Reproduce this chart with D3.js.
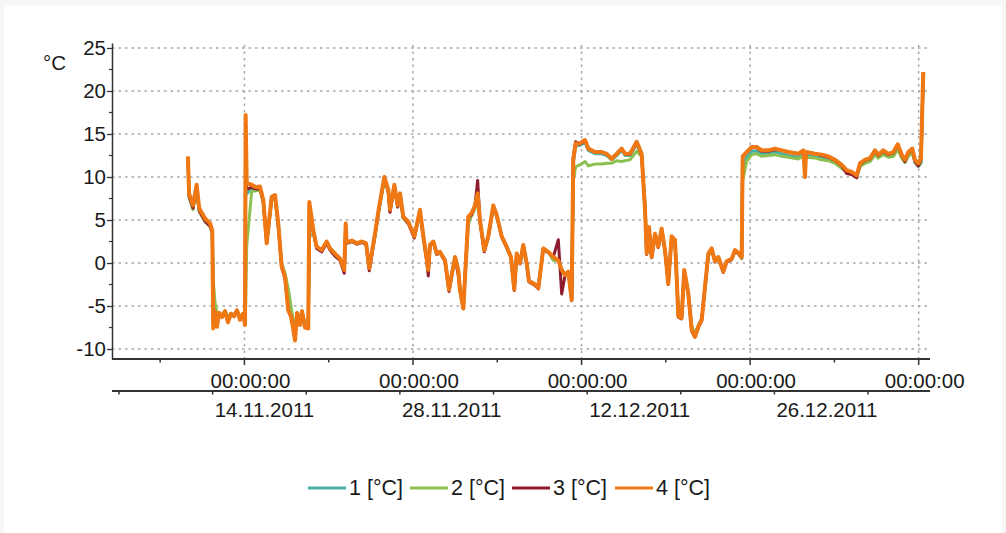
<!DOCTYPE html>
<html><head><meta charset="utf-8">
<script src="https://cdn.jsdelivr.net/npm/d3@7"></script>
<style>
html,body{margin:0;padding:0;background:#f7f7f7;}
svg{display:block;font-family:"Liberation Sans",Arial,sans-serif;}
</style></head>
<body>
<svg id="chart" width="1006" height="533"></svg>
<script>
// ---- data ----
const startDate = "2011-11-03T00:00:00";
// time of each sample, in days since startDate
const times = [
6.31,6.40,6.73,7.03,7.23,7.31,7.72,8.14,8.33,8.41,
8.55,8.72,8.89,9.14,9.39,9.63,9.88,10.13,10.38,10.63,
10.88,11.05,11.10,11.19,11.60,11.96,12.29,12.57,12.85,13.26,
13.54,13.81,14.09,14.37,14.64,14.87,15.03,15.20,15.37,15.61,
15.78,16.03,16.30,16.39,16.72,17.00,17.42,17.83,18.11,18.52,
18.94,19.29,19.41,19.48,19.93,20.35,20.76,21.10,21.37,21.84,
22.18,22.62,22.95,23.09,23.45,23.73,23.92,24.19,24.61,25.11,
25.58,25.86,26.08,26.27,26.41,26.69,26.97,27.24,27.66,27.99,
28.49,28.76,28.90,29.18,29.59,29.87,30.15,30.37,30.56,30.92,
31.25,31.67,31.95,32.37,32.78,33.14,33.41,33.61,33.89,34.16,
34.44,34.63,35.13,35.41,35.82,36.24,36.65,37.07,37.35,37.62,
37.90,38.18,38.31,38.51,38.87,39.29,39.56,40.12,40.67,41.09,
41.50,41.92,42.33,42.61,43.02,43.58,43.99,44.27,44.41,44.60,
44.82,45.10,45.37,45.65,45.93,46.20,46.48,46.76,47.04,47.31,
47.53,47.86,48.15,48.42,48.70,48.98,49.25,49.53,49.81,50.08,
50.36,50.77,51.05,51.47,51.74,52.02,52.30,52.38,52.71,53.13,
53.55,53.96,54.51,55.07,55.62,56.17,57.00,57.42,57.56,57.64,
58.39,58.95,59.49,60.05,60.61,61.02,61.44,61.85,62.13,62.54,
62.96,63.37,63.65,64.06,64.48,64.90,65.26,65.59,65.86,66.14,
66.47,66.69,66.97,67.19,67.38];

const series1 = [
12.2,7.9,6.5,8.9,6.3,6.0,5.0,4.4,3.6,-5.0,
-5.4,-6.8,-5.8,-6.1,-5.6,-6.6,-5.9,-6.1,-5.5,-6.4,
-5.9,-6.9,10.0,8.0,8.8,8.6,8.7,7.1,2.4,7.5,
7.7,4.5,-0.2,-1.4,-4.5,-5.8,-7.0,-8.0,-5.8,-7.0,
-5.6,-7.2,-7.4,5.0,3.7,1.9,1.5,2.5,1.7,1.1,
0.5,-0.8,3.0,2.4,2.6,2.3,2.5,2.3,-0.6,3.3,
6.4,9.8,8.4,6.1,8.9,6.6,8.0,5.3,4.7,3.1,
6.0,3.1,1.0,-0.7,2.1,2.5,1.1,1.3,0.3,-3.0,
0.7,-0.8,-3.0,-5.0,5.0,5.7,6.5,7.9,5.0,1.5,
3.1,6.6,5.5,3.1,1.9,0.7,-3.0,1.1,0.0,2.1,
0.0,-2.1,-2.5,-2.8,1.7,1.3,0.5,0.3,-0.8,-1.4,
-1.0,-4.0,11.5,13.6,13.7,14.0,13.1,12.7,12.7,12.5,
12.0,12.5,13.1,12.5,12.5,13.8,12.6,6.5,1.2,4.1,
0.7,3.3,1.9,3.9,1.5,-2.3,3.0,2.7,-5.9,-6.2,
-0.9,-3.4,-7.6,-8.4,-7.3,-6.5,-2.8,1.0,1.6,0.2,
0.7,-1.0,0.2,0.5,1.4,1.2,0.6,11.0,12.3,13.0,
13.0,12.7,12.7,12.9,12.7,12.5,12.3,12.7,11.5,12.5,
12.4,12.2,12.1,11.7,11.1,10.6,10.4,10.0,11.3,11.7,
11.9,12.8,12.3,12.8,12.4,12.6,13.4,12.3,11.7,12.6,
13.0,11.7,11.2,11.6,22.0];

const series2 = [
12.0,7.6,6.2,8.6,6.0,5.8,4.8,4.2,3.5,-2.0,
-4.5,-5.8,-5.8,-6.0,-5.6,-6.3,-5.9,-6.0,-5.5,-6.2,
-5.9,-6.5,-5.0,2.0,8.3,8.4,8.5,7.0,2.6,7.3,
7.5,4.4,0.0,-1.2,-3.0,-5.0,-6.5,-7.0,-5.8,-6.8,
-5.6,-7.0,-7.2,3.0,3.5,1.8,1.4,2.4,1.6,1.0,
0.4,-0.8,2.5,2.3,2.5,2.2,2.4,2.2,-0.5,3.0,
6.2,9.6,8.2,6.0,8.7,6.5,7.8,5.2,4.6,3.0,
5.8,3.0,1.0,-0.6,2.0,2.4,1.0,1.2,0.3,-2.8,
0.7,-0.7,-2.8,-4.8,4.5,5.5,6.3,7.6,4.9,1.5,
3.0,6.4,5.4,3.0,1.8,0.7,-2.8,1.0,0.0,2.0,
0.0,-2.0,-2.4,-2.7,1.6,1.3,0.3,0.3,-0.7,-1.3,
-1.0,-3.8,9.5,11.2,11.4,11.8,11.3,11.5,11.5,11.6,
11.6,11.9,11.8,11.9,12.0,13.0,12.4,7.0,1.5,4.0,
0.8,3.2,1.9,3.8,1.5,-2.2,2.9,2.6,-5.5,-6.0,
-1.0,-3.3,-7.3,-8.2,-7.2,-6.4,-2.9,0.8,1.5,0.2,
0.6,-0.9,0.2,0.4,1.3,1.1,0.5,9.5,11.8,12.6,
12.7,12.4,12.5,12.6,12.4,12.3,12.1,12.4,11.0,12.3,
12.2,12.0,11.9,11.6,11.0,10.6,10.3,10.0,11.2,11.6,
11.8,12.6,12.2,12.6,12.3,12.4,13.2,12.2,11.7,12.4,
12.8,11.7,11.3,11.7,21.5];

const series3 = [
12.3,7.8,6.4,8.9,6.2,5.9,4.9,4.3,3.6,-7.0,
-5.6,-7.2,-5.8,-6.3,-5.6,-6.8,-5.9,-6.2,-5.5,-6.5,
-5.9,-7.0,16.0,8.6,8.8,8.6,8.7,7.1,2.3,7.5,
7.6,4.4,-0.5,-1.8,-5.5,-6.2,-7.4,-8.8,-5.8,-7.1,
-5.6,-7.4,-7.5,6.8,3.6,1.7,1.3,2.3,1.5,0.8,
0.3,-1.2,4.4,2.3,2.5,2.2,2.4,2.2,-0.9,3.2,
6.3,10.0,8.3,5.9,9.0,6.5,8.0,5.3,4.6,2.9,
6.1,3.0,0.9,-1.5,2.0,2.4,1.0,1.2,0.2,-3.3,
0.6,-1.4,-3.2,-5.3,5.3,5.6,6.7,9.6,4.8,1.3,
3.0,6.6,5.5,3.0,1.8,0.6,-3.2,1.0,-0.1,2.0,
-0.1,-2.2,-2.6,-3.0,1.6,1.2,0.7,2.7,-3.6,-1.5,
-1.1,-4.4,12.3,14.1,13.8,14.2,13.3,12.9,12.9,12.7,
12.2,12.7,13.3,12.7,12.6,14.0,12.6,6.3,1.0,4.1,
0.6,3.3,1.8,3.9,1.4,-2.5,3.0,2.6,-6.3,-6.5,
-0.9,-3.6,-7.9,-8.6,-7.5,-6.7,-2.9,1.0,1.6,0.1,
0.6,-1.1,0.1,0.4,1.4,1.1,0.6,12.3,12.9,13.4,
13.4,13.0,13.0,13.2,13.1,12.9,12.7,13.0,11.0,12.9,
12.7,12.5,12.3,11.9,11.3,10.4,10.3,9.9,11.5,11.9,
12.1,13.0,12.5,13.0,12.6,12.8,13.7,12.5,11.8,12.8,
13.2,11.8,11.3,12.0,22.0];

const series4 = [
12.4,8.1,6.7,9.1,6.5,6.2,5.2,4.6,3.8,-7.6,
-5.6,-7.4,-5.8,-6.3,-5.6,-6.9,-5.9,-6.2,-5.5,-6.6,
-5.9,-7.2,17.2,9.3,9.1,8.8,8.9,7.3,2.3,7.7,
7.9,4.6,-0.4,-1.6,-5.5,-6.2,-7.5,-9.0,-5.8,-7.2,
-5.6,-7.5,-7.6,7.1,3.8,1.9,1.5,2.5,1.7,1.1,
0.5,-0.8,4.6,2.4,2.6,2.3,2.5,2.3,-0.6,3.4,
6.5,10.0,8.5,6.2,9.1,6.7,8.1,5.4,4.8,3.1,
6.2,3.1,1.0,-0.8,2.1,2.5,1.1,1.3,0.3,-3.1,
0.7,-0.8,-3.1,-5.3,5.4,5.8,6.7,8.1,5.0,1.5,
3.1,6.7,5.6,3.1,1.9,0.7,-3.1,1.1,0.0,2.1,
0.0,-2.1,-2.5,-2.9,1.7,1.3,0.7,0.3,-0.8,-1.4,
-1.0,-4.3,12.0,13.9,13.9,14.3,13.3,12.9,12.9,12.7,
12.1,12.7,13.3,12.7,12.7,14.1,12.7,6.2,1.1,4.2,
0.7,3.4,1.9,4.0,1.5,-2.4,3.1,2.7,-6.2,-6.4,
-0.8,-3.5,-7.8,-8.6,-7.4,-6.6,-2.8,1.1,1.7,0.2,
0.7,-1.0,0.2,0.5,1.5,1.2,0.7,12.4,12.9,13.5,
13.5,13.1,13.1,13.3,13.1,12.9,12.7,13.1,10.0,12.9,
12.7,12.6,12.4,12.0,11.4,10.8,10.6,10.2,11.6,12.0,
12.2,13.1,12.6,13.1,12.7,12.9,13.8,12.6,12.0,12.9,
13.3,12.0,11.6,12.2,22.2];

const seriesNames = ["1 [°C]","2 [°C]","3 [°C]","4 [°C]"];
const seriesColors = ["#47b1a6","#8cc152","#8e1b2e","#f07814"];
const yTicks = [-10,-5,0,5,10,15,20,25];
const yMinorTicks = [-7.5,-2.5,2.5,7.5,12.5,17.5,22.5];
const timeTickLabel = "00:00:00";
const timeMajorTicks = ["2011-11-14","2011-11-28","2011-12-12","2011-12-26","2012-01-09"];
const timeMinorTicks = ["2011-11-07","2011-11-21","2011-12-05","2011-12-19","2012-01-02"];
const dateTicks = ["2011-11-07","2011-11-14","2011-11-21","2011-11-28","2011-12-05","2011-12-12","2011-12-19","2011-12-26","2012-01-02"];
const dateLabels = ["14.11.2011","28.11.2011","12.12.2011","26.12.2011"];
const dateLabelTicks = ["2011-11-14","2011-11-28","2011-12-12","2011-12-26"];
const yUnit = "°C";

// ---- layout ----
const svg = d3.select("#chart");
svg.append("rect").attr("x",4).attr("y",6).attr("width",998).attr("height",527).attr("fill","#fff");

const L = 112, R = 930, T = 43, B = 359;
const t0 = new Date(startDate);
const dayMs = 86400000;
const parse = s => new Date(s + "T00:00:00");
const x = d3.scaleTime().domain([t0, new Date(+t0 + 67.94*dayMs)]).range([L, R]);
const y = d3.scaleLinear().domain([-11.16, 25.58]).range([B, T]);
// second (date) axis scale
const x2 = d3.scaleTime().domain([parse("2011-11-07"), parse("2012-01-02")]).range([119, 868]);

const font = 20.5, txt = "#1a1a1a", axisCol = "#333";

// grid
const grid = svg.append("g").attr("stroke","#a8a8a8").attr("stroke-width",1.5).attr("stroke-dasharray","2.5,4");
grid.selectAll("line.h").data(yTicks).join("line").attr("class","h")
  .attr("x1",L).attr("x2",R).attr("y1",d=>y(d)).attr("y2",d=>y(d));
grid.selectAll("line.v").data(timeMajorTicks).join("line").attr("class","v")
  .attr("x1",d=>x(parse(d))).attr("x2",d=>x(parse(d))).attr("y1",T+2).attr("y2",B);

// series lines
const line = d3.line().x(d=>x(new Date(+t0 + d[0]*dayMs))).y(d=>y(d[1]));
const allSeries = [series1, series2, series3, series4];
const widths = [3,3,3,4];
allSeries.forEach((s,i)=>{
  svg.append("path").datum(times.map((t,j)=>[t,s[j]]))
    .attr("fill","none").attr("stroke",seriesColors[i]).attr("stroke-width",widths[i])
    .attr("stroke-linejoin","round").attr("d",line);
});

// y axis
const yAxis = svg.append("g").attr("transform",`translate(${L},0)`)
  .call(d3.axisLeft(y).tickValues(yTicks).tickFormat(d=>String(d)).tickSize(5).tickPadding(1).tickSizeOuter(0));
yAxis.select(".domain").attr("stroke",axisCol).attr("stroke-width",1.5);
yAxis.selectAll(".tick line").attr("stroke",axisCol).attr("stroke-width",1.3);
yAxis.selectAll("text").attr("font-size",font).attr("fill",txt).attr("font-family","Liberation Sans, Arial, sans-serif");
svg.append("g").selectAll("line").data(yMinorTicks).join("line")
  .attr("x1",L-3).attr("x2",L).attr("y1",d=>y(d)).attr("y2",d=>y(d)).attr("stroke",axisCol).attr("stroke-width",1.2);
svg.append("text").attr("x",43).attr("y",70).attr("font-size",font).attr("fill",txt).text(yUnit);

// x axis 1 (time)
svg.append("line").attr("x1",L).attr("x2",R).attr("y1",B).attr("y2",B).attr("stroke",axisCol).attr("stroke-width",1.8);
svg.append("g").selectAll("line").data(timeMajorTicks).join("line")
  .attr("x1",d=>x(parse(d))).attr("x2",d=>x(parse(d))).attr("y1",B).attr("y2",B+6).attr("stroke",axisCol).attr("stroke-width",1.5);
svg.append("g").selectAll("line").data(timeMinorTicks).join("line")
  .attr("x1",d=>x(parse(d))).attr("x2",d=>x(parse(d))).attr("y1",B).attr("y2",B+3.5).attr("stroke",axisCol).attr("stroke-width",1.5);
svg.append("g").selectAll("text").data(timeMajorTicks).join("text")
  .attr("x",d=>x(parse(d))+6).attr("y",388).attr("text-anchor","middle")
  .attr("font-size",font).attr("fill",txt).text(timeTickLabel);

// x axis 2 (dates)
const Y2 = 391;
svg.append("line").attr("x1",L).attr("x2",R).attr("y1",Y2).attr("y2",Y2).attr("stroke",axisCol).attr("stroke-width",1.8);
svg.append("g").selectAll("line").data(dateTicks).join("line")
  .attr("x1",d=>x2(parse(d))).attr("x2",d=>x2(parse(d))).attr("y1",Y2).attr("y2",Y2+3.5).attr("stroke",axisCol).attr("stroke-width",1.5);
svg.append("g").selectAll("text").data(dateLabelTicks).join("text")
  .attr("x",d=>x2(parse(d))+2).attr("y",417)
  .attr("font-size",font).attr("fill",txt).text((d,i)=>dateLabels[i]);

// legend
const legendX = [308,410,512,615];
const lg = svg.append("g");
seriesNames.forEach((n,i)=>{
  lg.append("line").attr("x1",legendX[i]).attr("x2",legendX[i]+38).attr("y1",488).attr("y2",488)
    .attr("stroke",seriesColors[i]).attr("stroke-width",3);
  lg.append("text").attr("x",legendX[i]+41).attr("y",495).attr("font-size",21.5).attr("fill",txt).text(n);
});
</script>
</body></html>
